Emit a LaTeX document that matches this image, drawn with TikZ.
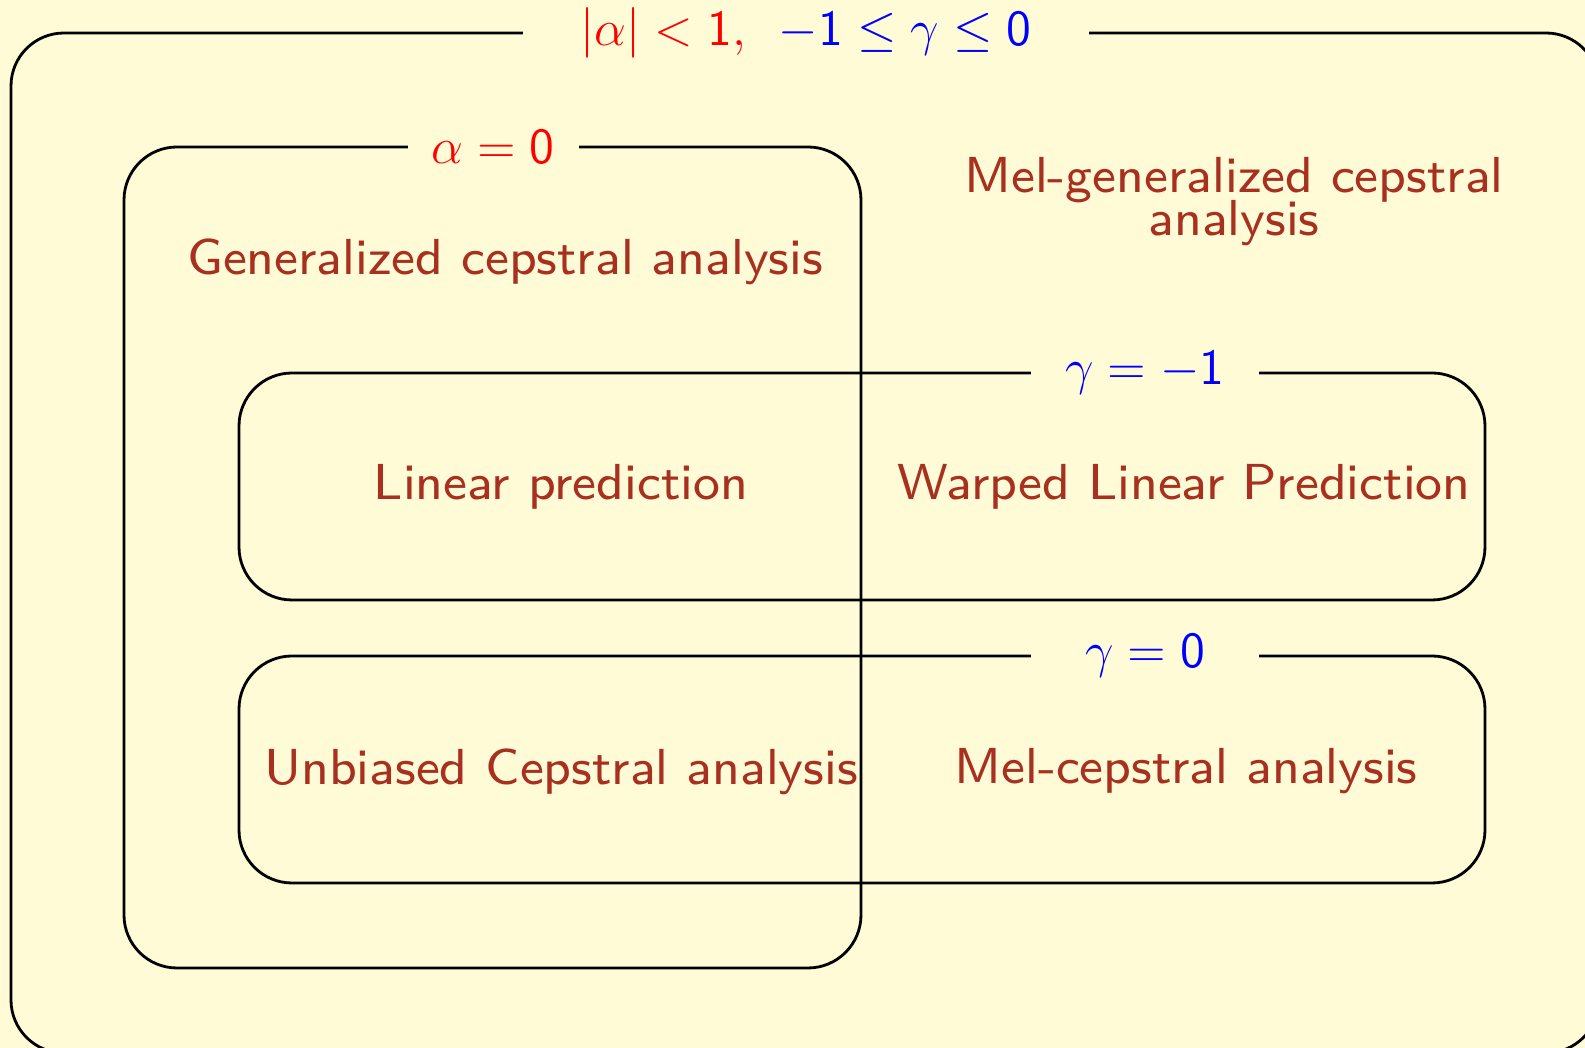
\documentclass[tikz,border=0pt]{standalone}
\usepackage{amsmath}
\usepackage{amssymb}
\definecolor{bgyellow}{RGB}{255,251,214}
\definecolor{methodbrown}{RGB}{168,48,32}
\newcommand{\methodtext}[1]{\scalebox{1.8}{\fontsize{8}{7}\sffamily\begin{tabular}{@{}c@{}}#1\end{tabular}}}

\begin{document}
\begin{tikzpicture}[x=0.1mm, y=-0.1mm, line width=0.8pt,
  region/.style={draw, rounded corners=5.3mm},
  tag/.style={fill=bgyellow, inner xsep=0pt, inner ysep=1pt, font=\fontsize{14}{17}\selectfont},
  method/.style={text=methodbrown, inner sep=0pt}]

\useasboundingbox (0,0) rectangle (1585,1048);
\fill[bgyellow] (0,0) rectangle (1585,1048);
\clip (0,0) rectangle (1585,1048);

% regions
\draw[region] (11,33) rectangle (1599,1053);
\draw[region] (124,147) rectangle (861,968);
\draw[region] (239,373) rectangle (1485,600);
\draw[region] (239,656) rectangle (1485,883);

% conditions on the borders
\node[tag, minimum width=56.6mm] (mgc) at (806,33) {$\color{red}|\alpha| < \mathsf{1},\enspace \color{blue}-\mathsf{1} \le \gamma \le \mathsf{0}$};
\node[tag, minimum width=17.1mm] (alpha) at (493,147) {$\color{red}\alpha = \mathsf{0}$};
\node[tag, minimum width=22.8mm] (lpc) at (1145,373) {$\color{blue}\gamma = -\mathsf{1}$};
\node[tag, minimum width=22.8mm] (cep) at (1145,656) {$\color{blue}\gamma = \mathsf{0}$};

% method names
\node[method] (gencep) at (505,263) {\methodtext{Generalized cepstral analysis}};
\node[method] (melgencep) at (1234,203) {\methodtext{Mel-generalized cepstral\\[-0.8pt]analysis}};
\node[method] (linpred) at (561,489) {\methodtext{Linear prediction}};
\node[method] (warped) at (1184,489) {\methodtext{Warped Linear Prediction}};
\node[method] (unbiased) at (561,773) {\methodtext{Unbiased Cepstral analysis}};
\node[method] (melcep) at (1186,773) {\methodtext{Mel-cepstral analysis}};

\end{tikzpicture}
\end{document}
